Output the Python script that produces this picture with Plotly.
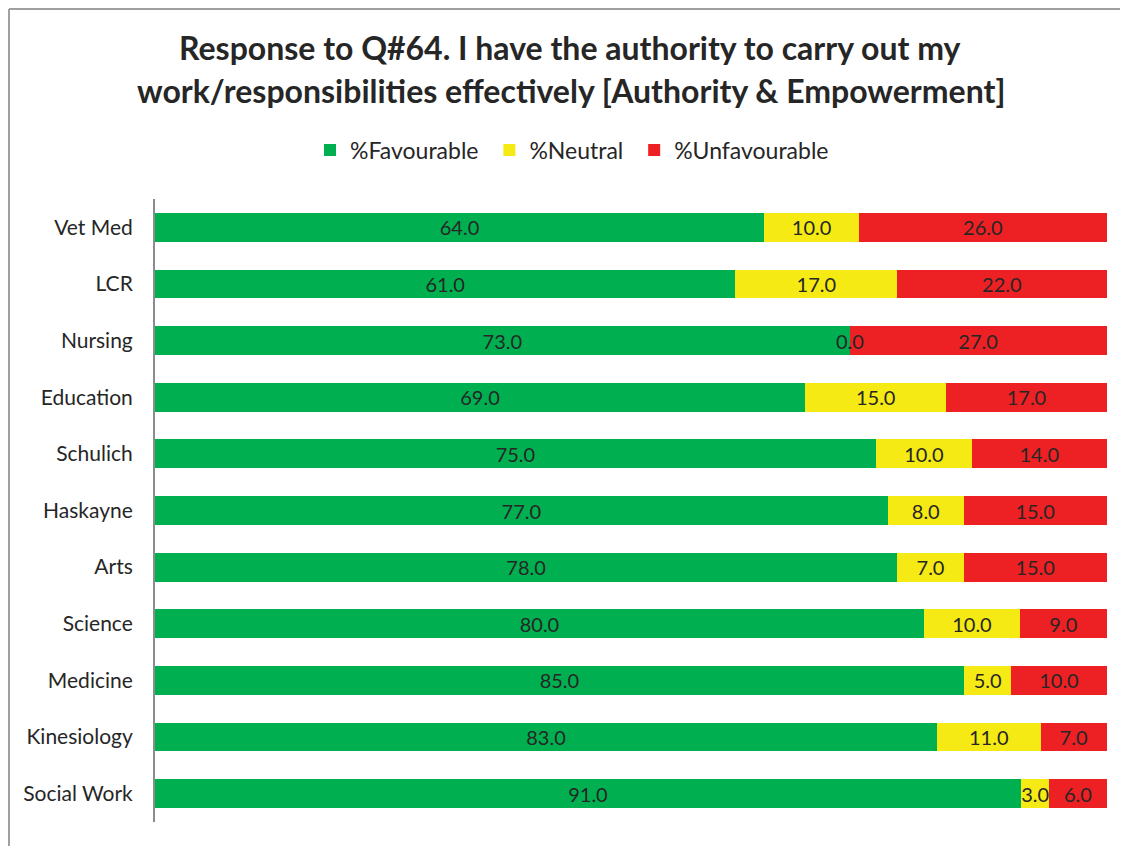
import plotly.graph_objects as go

categories = ["Vet Med", "LCR", "Nursing", "Education", "Schulich", "Haskayne",
              "Arts", "Science", "Medicine", "Kinesiology", "Social Work"]
favourable = [64.0, 61.0, 73.0, 69.0, 75.0, 77.0, 78.0, 80.0, 85.0, 83.0, 91.0]
neutral = [10.0, 17.0, 0.0, 15.0, 10.0, 8.0, 7.0, 10.0, 5.0, 11.0, 3.0]
unfavourable = [26.0, 22.0, 27.0, 17.0, 14.0, 15.0, 15.0, 9.0, 10.0, 7.0, 6.0]

series = [
    ("%Favourable", favourable, "#00B050"),
    ("%Neutral", neutral, "#F5EA14"),
    ("%Unfavourable", unfavourable, "#ED2024"),
]
legend_pad = [1, 1, 0]

FONT = "Lato"
TXT = "#262626"
fig = go.Figure()
for (name, vals, color), pad in zip(series, legend_pad):
    fig.add_trace(go.Bar(
        y=categories, x=vals, name=name + "\u00a0" * pad, orientation="h",
        marker=dict(color=color, line=dict(width=0)),
        text=vals, texttemplate="%{text:.1f}",
        textposition="inside", insidetextanchor="middle", textangle=0,
        textfont=dict(family=FONT, size=20, color=TXT),
        constraintext="none", cliponaxis=False,
    ))

# labels for zero-width segments (not rendered by bars)
annotations = []
for j, (name, vals, color) in enumerate(series):
    for i, v in enumerate(vals):
        if v == 0:
            total = favourable[i] + neutral[i] + unfavourable[i]
            before = sum(series[k][1][i] for k in range(j))
            annotations.append(dict(
                x=before / total * 100, y=categories[i], xref="x", yref="y",
                text=f"{v:.1f}", showarrow=False,
                font=dict(family=FONT, size=20, color=TXT),
            ))

OFF = 8  # browser body margin
W, H = 1128 - OFF, 846 - OFF
L, R, T, B = 155 - OFF, 21, 199 - OFF, 24
pw, ph = W - L - R, H - T - B


def px(xp):
    return (xp - OFF - L) / pw


def py(yp):
    return (H - B - (yp - OFF)) / ph


annotations += [
    dict(xref="paper", yref="paper", x=px(570), y=py(47), xanchor="center", yanchor="middle",
         text="<b>Response to Q#64. I have the authority to carry out my</b>", showarrow=False,
         font=dict(family=FONT, size=32, color=TXT)),
    dict(xref="paper", yref="paper", x=px(571), y=py(90), xanchor="center", yanchor="middle",
         text="<b>work/responsibilities effectively [Authority &amp; Empowerment]</b>", showarrow=False,
         font=dict(family=FONT, size=32, color=TXT)),
]

fig.update_layout(
    width=W, height=H,
    barmode="stack", barnorm="percent", bargap=0.49,
    margin=dict(l=L, r=R, t=T, b=B),
    paper_bgcolor="white", plot_bgcolor="white",
    uniformtext=dict(mode="show", minsize=20),
    legend=dict(
        orientation="h", x=(572 - OFF) / W, xanchor="center", xref="container",
        y=1 - (150 - OFF) / H, yanchor="middle", yref="container",
        font=dict(family=FONT, size=23, color=TXT),
        traceorder="normal", itemwidth=30,
    ),
    xaxis=dict(range=[0, 100.05], visible=False, fixedrange=True),
    yaxis=dict(
        autorange="reversed", showline=True, linecolor="#8C8C8C", linewidth=2,
        ticks="", showgrid=False, ticklabelstandoff=16,
        tickfont=dict(family=FONT, size=21, color=TXT),
    ),
    showlegend=True,
    annotations=annotations,
    shapes=[
        dict(type="line", xref="paper", yref="paper",
             x0=px(9), x1=px(1128), y0=py(9), y1=py(9),
             line=dict(color="#A0A0A0", width=2), layer="below"),
        dict(type="line", xref="paper", yref="paper",
             x0=px(9), x1=px(9), y0=py(846), y1=py(9),
             line=dict(color="#A0A0A0", width=2), layer="below"),
    ],
)

fig.write_html("out.html")
